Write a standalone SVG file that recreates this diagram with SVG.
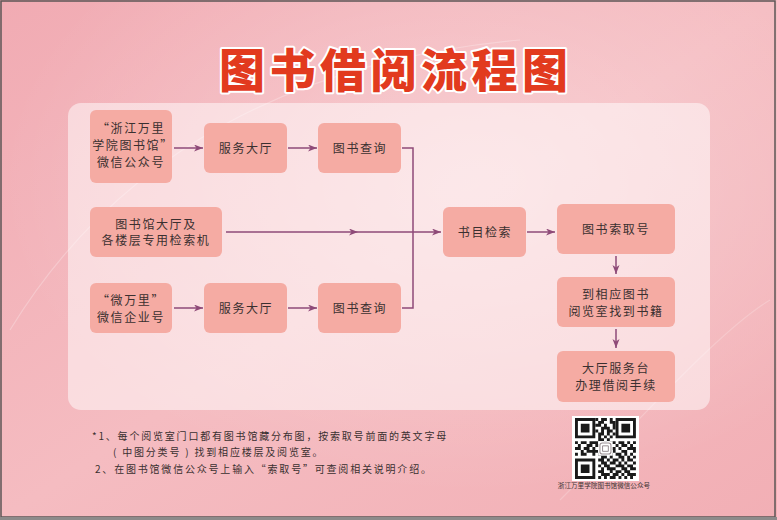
<svg xmlns="http://www.w3.org/2000/svg" width="777" height="520" viewBox="0 0 777 520">
<defs>
<linearGradient id="bg" x1="0" y1="0" x2="1" y2="1">
<stop offset="0" stop-color="#f1abb3"/>
<stop offset="0.5" stop-color="#f5bcc1"/>
<stop offset="1" stop-color="#f2afb5"/>
</linearGradient>
<radialGradient id="glow" cx="0.6" cy="0.35" r="0.6">
<stop offset="0" stop-color="#ffffff" stop-opacity="0.3"/>
<stop offset="1" stop-color="#ffffff" stop-opacity="0"/>
</radialGradient>
<marker id="ah" markerWidth="10" markerHeight="8" refX="9" refY="3.5" orient="auto" markerUnits="userSpaceOnUse">
<path d="M0,0 L9,3.5 L0,7 L2.5,3.5 Z" fill="#8e4a78"/>
</marker>
<style>
.node rect{fill:#f5aba3;}
.node text{font-family:"Noto Sans CJK SC","Noto Sans",sans-serif;font-size:12px;fill:#3a3030;text-anchor:middle;letter-spacing:1.6px;}
.conn path,.conn line{stroke:#8e4a78;stroke-width:1.5;fill:none;}
.note{font-family:"Noto Sans CJK SC","Noto Sans",sans-serif;font-size:10px;fill:#3a3030;letter-spacing:1.8px;}
</style>
</defs>
<rect x="0" y="0" width="777" height="520" fill="url(#bg)"/>
<rect x="0" y="0" width="777" height="520" fill="url(#glow)"/>
<path d="M10,330 C120,150 300,60 520,40" stroke="#ffffff" stroke-opacity="0.25" stroke-width="1.2" fill="none"/>
<path d="M560,500 C640,420 720,330 770,300" stroke="#ffffff" stroke-opacity="0.2" stroke-width="1.2" fill="none"/>
<rect x="1" y="1" width="774" height="516" fill="none" stroke="#5c5656" stroke-width="1.5"/>
<rect x="0" y="517" width="777" height="3" fill="#8d8a8a"/>

<text x="219" y="87" font-family="Noto Sans CJK SC,sans-serif" font-weight="900" font-size="46" letter-spacing="4.5" fill="#e23a1e" stroke="#ffffff" stroke-width="4" stroke-linejoin="round" paint-order="stroke">图书借阅流程图</text>

<rect x="68" y="103" width="642" height="307" rx="13" fill="#ffffff" fill-opacity="0.5"/>

<g class="conn">
<line x1="174" y1="148" x2="203" y2="148" marker-end="url(#ah)"/>
<line x1="288" y1="148" x2="317" y2="148" marker-end="url(#ah)"/>
<line x1="174" y1="308" x2="203" y2="308" marker-end="url(#ah)"/>
<line x1="288" y1="308" x2="317" y2="308" marker-end="url(#ah)"/>
<path d="M402,148 H413 V308 H402"/>
<line x1="226" y1="232" x2="358" y2="232" marker-end="url(#ah)"/>
<line x1="358" y1="232" x2="441" y2="232" marker-end="url(#ah)"/>
<line x1="527" y1="232" x2="555" y2="232" marker-end="url(#ah)"/>
<line x1="616" y1="256" x2="616" y2="274" marker-end="url(#ah)"/>
<line x1="616" y1="329" x2="616" y2="348" marker-end="url(#ah)"/>
</g>

<g id="n-wechat-public" class="node"><rect x="90" y="110" width="82" height="73" rx="6"/>
<text x="131" y="133">“浙江万里</text><text x="133" y="150">学院图书馆”</text><text x="131" y="167">微信公众号</text></g>
<g id="n-hall1" class="node"><rect x="204" y="123" width="83" height="50" rx="6"/><text x="246" y="152.5">服务大厅</text></g>
<g id="n-query1" class="node"><rect x="318" y="123" width="83" height="50" rx="6"/><text x="360" y="152.5">图书查询</text></g>
<g id="n-terminal" class="node"><rect x="90" y="207" width="132" height="50" rx="6"/>
<text x="156" y="228.5">图书馆大厅及</text><text x="156" y="244.5">各楼层专用检索机</text></g>
<g id="n-wechat-corp" class="node"><rect x="90" y="283" width="82" height="50" rx="6"/>
<text x="131" y="305">“微万里”</text><text x="131" y="322">微信企业号</text></g>
<g id="n-hall2" class="node"><rect x="204" y="283" width="83" height="50" rx="6"/><text x="246" y="312.5">服务大厅</text></g>
<g id="n-query2" class="node"><rect x="318" y="283" width="83" height="50" rx="6"/><text x="360" y="312.5">图书查询</text></g>
<g id="n-search" class="node"><rect x="443" y="207" width="83" height="50" rx="6"/><text x="485" y="236.5">书目检索</text></g>
<g id="n-callno" class="node"><rect x="557" y="204" width="118" height="50" rx="6"/><text x="616" y="233.5">图书索取号</text></g>
<g id="n-room" class="node"><rect x="557" y="277" width="118" height="50" rx="6"/>
<text x="616" y="298.5">到相应图书</text><text x="616" y="316">阅览室找到书籍</text></g>
<g id="n-desk" class="node"><rect x="557" y="351" width="118" height="51" rx="6"/>
<text x="616" y="372.5">大厅服务台</text><text x="616" y="390">办理借阅手续</text></g>

<text class="note" x="92" y="440">*1、每个阅览室门口都有图书馆藏分布图，按索取号前面的英文字母</text>
<text class="note" x="113" y="456">( 中图分类号 ) 找到相应楼层及阅览室。</text>
<text class="note" x="95" y="473">2、在图书馆微信公众号上输入“索取号”可查阅相关说明介绍。</text>

<g id="qr">
<rect x="572" y="416" width="67" height="65" fill="#ffffff"/>
<g transform="translate(575,418) scale(2.9)" fill="#1a1a1a">
<path d="M0 0h7v7h-7z M1 1v5h5v-5z M2 2h3v3h-3z" fill-rule="evenodd"/>
<path d="M14 0h7v7h-7z M15 1v5h5v-5z M16 2h3v3h-3z" fill-rule="evenodd"/>
<path d="M0 14h7v7h-7z M1 15v5h5v-5z M2 16h3v3h-3z" fill-rule="evenodd"/>
<path d="M7 0h1v1h-1z M9 0h2v1h-2z M12 0h1v1h-1z
M8 1h2v1h-2z M12 1h2v1h-2z
M7 2h2v1h-2z M10 2h1v1h-1z M13 2h1v1h-1z
M9 3h3v1h-3z M13 3h1v1h-1z
M7 4h1v1h-1z M9 4h1v1h-1z M11 4h2v1h-2z
M8 5h2v1h-2z M11 5h1v1h-1z M13 5h1v1h-1z
M8 6h1v1h-1z M10 6h1v1h-1z M12 6h1v1h-1z
M8 7h2v1h-2z M11 7h1v1h-1z
M0 8h1v1h-1z M2 8h2v1h-2z M5 8h3v1h-3z M10 8h1v1h-1z M12 8h2v1h-2z M15 8h2v1h-2z M18 8h1v1h-1z M20 8h1v1h-1z
M1 9h1v1h-1z M4 9h2v1h-2z M7 9h3v1h-3z M11 9h1v1h-1z M14 9h1v1h-1z M16 9h2v1h-2z M19 9h1v1h-1z
M0 10h2v1h-2z M3 10h2v1h-2z M6 10h1v1h-1z M9 10h2v1h-2z M12 10h2v1h-2z M15 10h1v1h-1z M18 10h3v1h-3z
M2 11h1v1h-1z M4 11h4v1h-4z M10 11h2v1h-2z M13 11h1v1h-1z M16 11h2v1h-2z M20 11h1v1h-1z
M0 12h1v1h-1z M2 12h2v1h-2z M6 12h1v1h-1z M8 12h3v1h-3z M12 12h1v1h-1z M14 12h2v1h-2z M17 12h1v1h-1z M19 12h1v1h-1z
M9 13h2v1h-2z M12 13h1v1h-1z M15 13h2v1h-2z M18 13h1v1h-1z M20 13h1v1h-1z
M8 14h2v1h-2z M11 14h1v1h-1z M13 14h2v1h-2z M16 14h1v1h-1z M18 14h2v1h-2z
M9 15h2v1h-2z M12 15h2v1h-2z M15 15h1v1h-1z M17 15h1v1h-1z M20 15h1v1h-1z
M8 16h1v1h-1z M10 16h2v1h-2z M14 16h3v1h-3z M18 16h2v1h-2z
M9 17h1v1h-1z M11 17h3v1h-3z M16 17h2v1h-2z M19 17h2v1h-2z
M8 18h2v1h-2z M12 18h1v1h-1z M14 18h2v1h-2z M17 18h2v1h-2z
M9 19h3v1h-3z M13 19h2v1h-2z M16 19h1v1h-1z M18 19h3v1h-3z
M8 20h1v1h-1z M10 20h1v1h-1z M12 20h2v1h-2z M15 20h1v1h-1z M17 20h1v1h-1z M19 20h1v1h-1z"/>
<rect x="8" y="8" width="5" height="5" fill="#ffffff"/>
<rect x="8.6" y="8.6" width="3.8" height="3.8" rx="0.8" fill="#ffffff" stroke="#9a8f93" stroke-width="0.35"/>
<path d="M9.5 9.6h2v1.9h-2z" fill="none" stroke="#8a7f84" stroke-width="0.3"/>
</g>
<text x="604" y="488" font-family="Noto Sans CJK SC,sans-serif" font-size="6.6" fill="#3e3434" text-anchor="middle">浙江万里学院图书馆微信公众号</text>
</g>
</svg>
